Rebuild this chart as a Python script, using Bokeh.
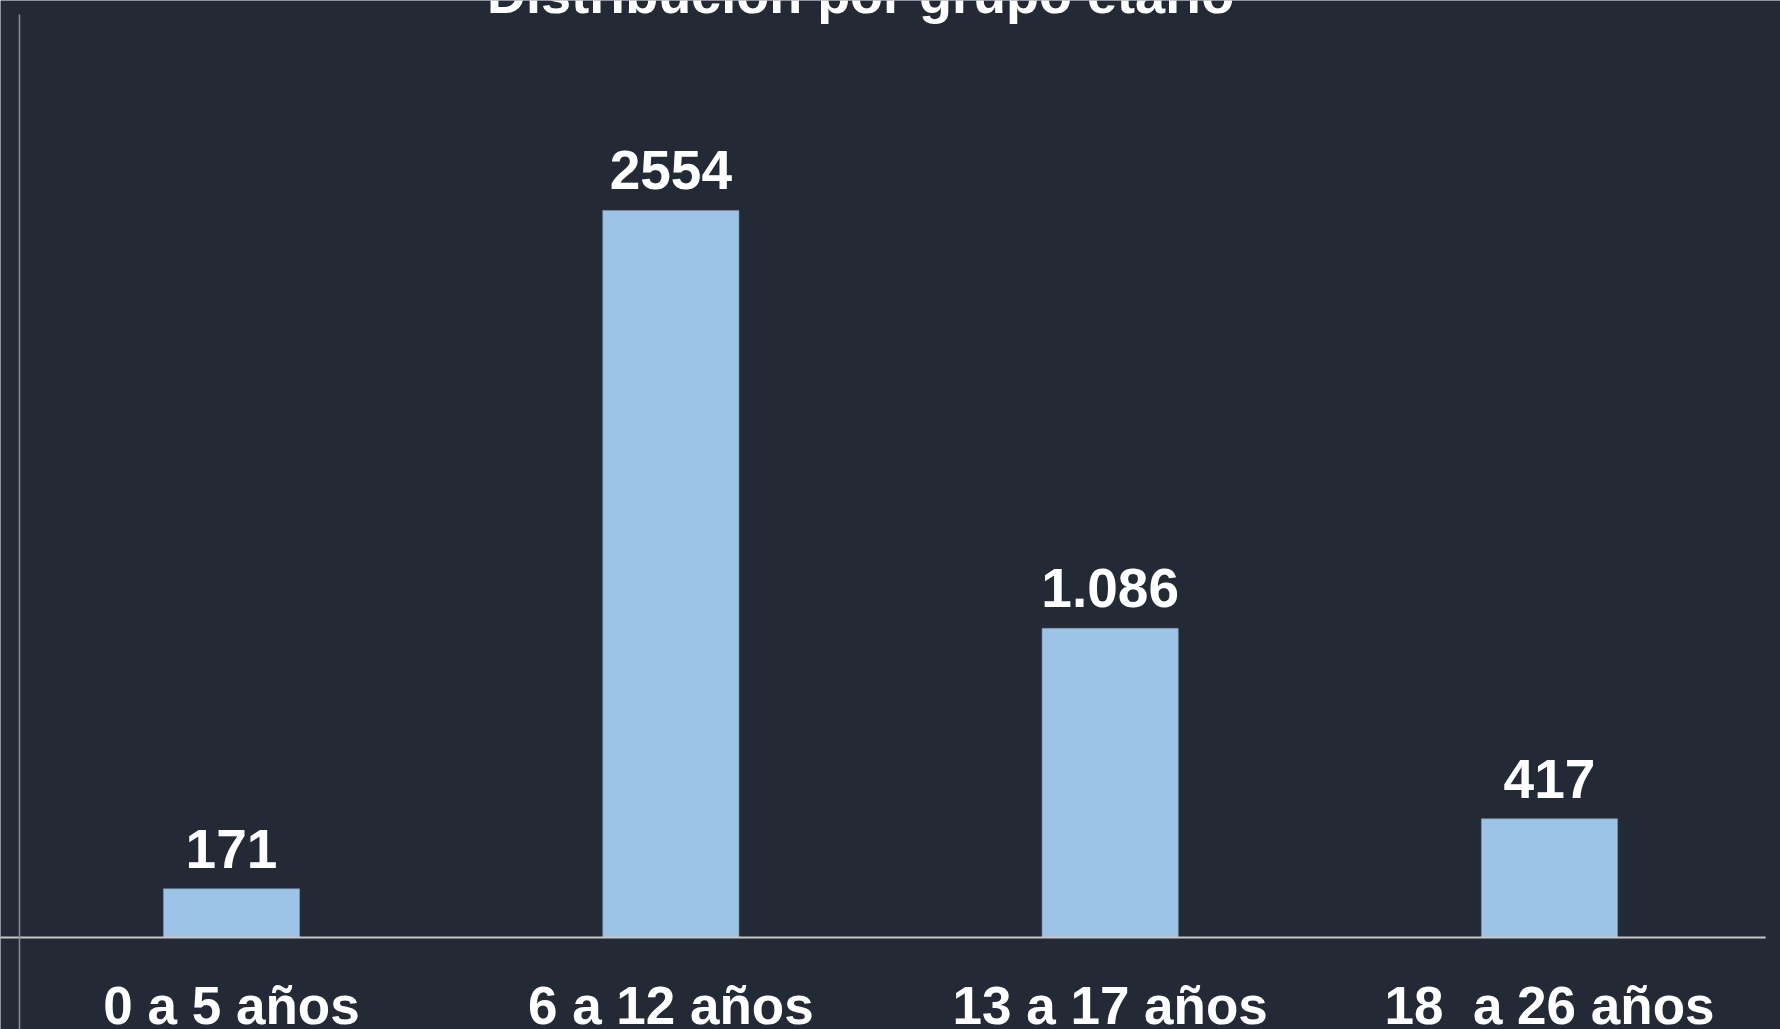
from bokeh.plotting import figure
from bokeh.models import FactorRange, Range1d, ColumnDataSource
from bokeh.core.properties import value
from bokeh.embed import file_html
from bokeh.resources import INLINE

title_text = "Distribución por grupo etario"
categories = ["0 a 5 años", "6 a 12 años", "13 a 17 años", "18\u00a0 a 26 años"]
counts = [171, 2554, 1086, 417]
count_labels = ["171", "2554", "1.086", "417"]

BG = "#232a36"
BAR = "#9dc3e6"
FONT = "Liberation Sans"

px_per_unit = 0.2847
frame_h = 1029
axis_y_px = 937
y_start = -(frame_h - axis_y_px) / px_per_unit
y_end = axis_y_px / px_per_unit

p = figure(
    width=1780, height=1029,
    x_range=FactorRange(*categories, range_padding=0.0258, range_padding_units="absolute"),
    y_range=Range1d(y_start, y_end),
    output_backend="svg", toolbar_location=None,
    min_border=0, min_border_left=0, min_border_right=0, min_border_top=0, min_border_bottom=0,
    background_fill_color=BG, border_fill_color=BG, outline_line_color=None,
)
p.xaxis.visible = False
p.yaxis.visible = False
p.xgrid.visible = False
p.ygrid.visible = False

src = ColumnDataSource(dict(cat=categories, val=counts, lab=count_labels,
                            cy=[-298.6] * len(categories)))

# bars
p.vbar(x="cat", top="val", bottom=0, width=0.31, source=src,
       fill_color=BAR, line_color="#7a96b3", line_width=0.6)

# x axis line
p.segment(x0=[-0.03], y0=[0], x1=[3.992], y1=[0], line_color="#c8c8c8", line_width=2)
# vertical axis line
p.segment(x0=[0.0174], y0=[y_start - 50], x1=[0.0174], y1=[3242], line_color="#8a8f96", line_width=1.5)

# value labels
p.text(x="cat", y="val", text="lab", source=src, y_offset=-40,
       text_align="center", text_baseline="alphabetic",
       text_font=value(FONT), text_font_style="bold", text_font_size="55px",
       text_color="white")

# category labels
p.text(x="cat", y="cy", text="cat", source=src, y_offset=-17,
       text_align="center", text_baseline="alphabetic",
       text_font=value(FONT), text_font_style="bold", text_font_size="53px",
       text_color="white")

# title (partially cut at top as in reference)
p.text(x=[1.932], y=[3256], text=[title_text], y_offset=-17,
       text_align="center", text_baseline="alphabetic",
       text_font=value(FONT), text_font_style="bold", text_font_size="54px",
       text_color="white")

open("out.html", "w").write(file_html(p, INLINE))
